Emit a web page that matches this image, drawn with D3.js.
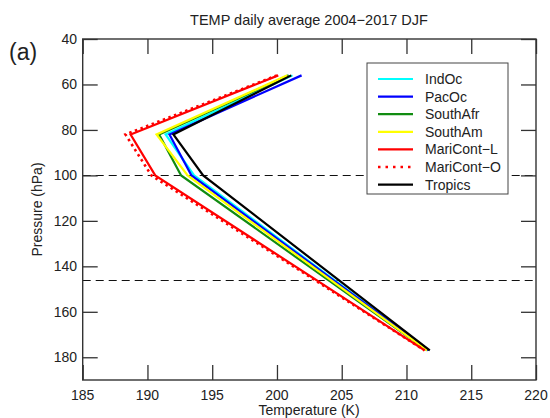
<!DOCTYPE html>
<html>
<head>
<meta charset="utf-8">
<script src="https://cdn.jsdelivr.net/npm/d3@7"></script>
<style>
  body { margin: 0; background: #fff; }
  text { font-family: "Liberation Sans", Arial, sans-serif; fill: #222; }
</style>
</head>
<body>
<div id="chart"></div>
<script>
var width = 550, height = 418;
var margin = {left: 82.7, right: 14, top: 39, bottom: 38};

// pressure levels (hPa) of the profiles
var levels = [56, 82, 100, 177];

var names = ["IndOc", "PacOc", "SouthAfr", "SouthAm", "MariCont\u2212L", "MariCont\u2212O", "Tropics"];
var colors = ["#00ffff", "#0000ff", "#118c11", "#ffff00", "#ff0000", "#ff0000", "#000000"];
var dashed = [false, false, false, false, false, true, false];

// temperature (K) at each level
var indOc    = [201.2, 191.4, 193.6, 211.7];
var pacOc    = [201.9, 191.7, 193.4, 211.7];
var southAfr = [200.9, 190.9, 192.6, 211.6];
var southAm  = [200.8, 190.7, 193.1, 211.6];
var mariL    = [200.1, 188.7, 190.6, 211.4];
var mariO    = [200.0, 188.3, 190.3, 211.4];
var tropics  = [201.1, 192.0, 194.3, 211.8];
var allSeries = [indOc, pacOc, southAfr, southAm, mariL, mariO, tropics];

var refLevels = [100, 146];

var x = d3.scaleLinear().domain([185, 220]).range([margin.left, width - margin.right]);
var y = d3.scaleLinear().domain([40, 190]).range([margin.top, height - margin.bottom]);

var svg = d3.select("#chart").append("svg")
    .attr("width", width)
    .attr("height", height);

// title and panel letter
svg.append("text")
    .attr("x", 309).attr("y", 25)
    .attr("text-anchor", "middle")
    .style("font-size", "14.5px")
    .text("TEMP daily average 2004\u22122017 DJF");
svg.append("text")
    .attr("x", 9).attr("y", 60)
    .style("font-size", "23px")
    .text("(a)");

// dashed reference lines
svg.selectAll(".ref")
    .data(refLevels)
    .enter().append("line")
    .attr("x1", x(185)).attr("x2", x(220))
    .attr("y1", d => Math.round(y(d)) + 0.5).attr("y2", d => Math.round(y(d)) + 0.5)
    .attr("stroke", "#111")
    .attr("stroke-width", 1.2)
    .attr("stroke-dasharray", "8,5");

// profiles
var line = d3.line()
    .x(d => x(d[0]))
    .y(d => y(d[1]));

allSeries.forEach(function(vals, i) {
    svg.append("path")
        .datum(vals.map((v, j) => [v, levels[j]]))
        .attr("d", line)
        .attr("fill", "none")
        .attr("stroke", colors[i])
        .attr("stroke-width", dashed[i] ? 2.6 : 2.2)
        .attr("stroke-dasharray", dashed[i] ? "2.5,3.5" : null);
});

// axes: ticks inward on all four sides
var xMajor = d3.range(185, 221, 5), xMinor = d3.range(185, 221, 1).filter(d => d % 5);
var yMajor = d3.range(40, 191, 20), yMinor = d3.range(40, 191, 5).filter(d => d % 20);

function tickAxis(axisFn, scale, major, minor, len, ml, transform) {
    var g = svg.append("g").attr("transform", transform);
    g.call(axisFn(scale).tickValues(minor).tickSize(-ml).tickFormat(""));
    g.call(axisFn(scale).tickValues(major).tickSize(-len).tickFormat("")); 
    g.select(".domain").remove();
    g.selectAll("line").attr("stroke", "#333").attr("stroke-width", 1.3);
    return g;
}
tickAxis(d3.axisBottom, x, xMajor, xMinor, 15, 7.5, "translate(0," + y(190) + ")");
tickAxis(d3.axisTop, x, xMajor, xMinor, 15, 7.5, "translate(0," + y(40) + ")");
tickAxis(d3.axisLeft, y, yMajor, yMinor, 15, 7.5, "translate(" + x(185) + ",0)");
tickAxis(d3.axisRight, y, yMajor, yMinor, 15, 7.5, "translate(" + x(220) + ",0)");

// frame
svg.append("rect")
    .attr("x", x(185)).attr("y", y(40))
    .attr("width", x(220) - x(185)).attr("height", y(190) - y(40))
    .attr("fill", "none").attr("stroke", "#333").attr("stroke-width", 1.4);

// tick labels
svg.selectAll(".xl").data(xMajor).enter().append("text")
    .attr("x", d => x(d)).attr("y", 400)
    .attr("text-anchor", "middle")
    .style("font-size", "14px")
    .text(d => d);
svg.selectAll(".yl").data(yMajor).enter().append("text")
    .attr("x", 77).attr("y", d => y(d) + 5)
    .attr("text-anchor", "end")
    .style("font-size", "14px")
    .text(d => d);

// axis titles
svg.append("text")
    .attr("x", 309).attr("y", 415)
    .attr("text-anchor", "middle")
    .style("font-size", "14px")
    .text("Temperature (K)");
svg.append("text")
    .attr("transform", "translate(42," + y(115) + ")rotate(-90)")
    .attr("text-anchor", "middle")
    .style("font-size", "14px")
    .text("Pressure (hPa)");

// legend
var legend = svg.append("g");
legend.append("rect")
    .attr("x", 367).attr("y", 63)
    .attr("width", 141).attr("height", 131)
    .attr("fill", "#fff")
    .attr("stroke", "#444").attr("stroke-width", 1);
var items = legend.selectAll(".item")
    .data(names)
    .enter().append("g")
    .attr("transform", (d, i) => "translate(0," + (79 + i * 17.6) + ")");
items.append("line")
    .attr("x1", 378).attr("x2", 413)
    .attr("stroke", (d, i) => colors[i])
    .attr("stroke-width", (d, i) => dashed[i] ? 2.6 : 2.2)
    .attr("stroke-dasharray", (d, i) => dashed[i] ? "2.5,5" : null);
items.append("text")
    .attr("x", 425).attr("y", 5)
    .style("font-size", "14px")
    .text(d => d);
</script>
</body>
</html>
